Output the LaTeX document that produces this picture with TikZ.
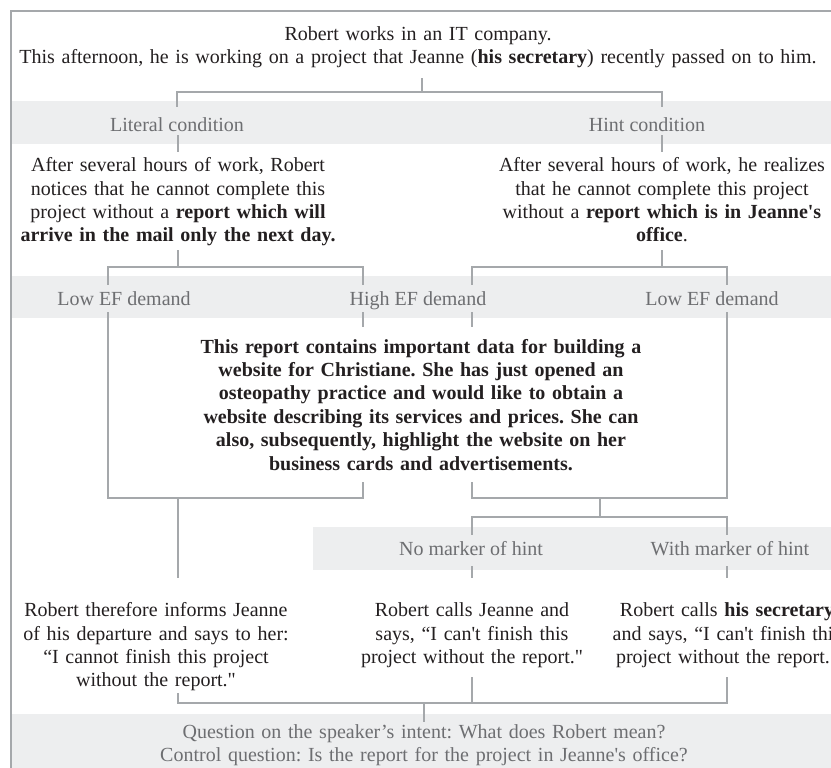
\documentclass[tikz,border=0pt]{standalone}
\usepackage{fontspec}
\setmainfont{Liberation Serif}[Ligatures=TeXOff]
\frenchspacing
\definecolor{linegray}{HTML}{A5A8AB}
\definecolor{bandgray}{HTML}{EDEEEF}
\definecolor{labgray}{HTML}{6D6E71}
\definecolor{inkblack}{HTML}{231F20}
\tikzset{
  link/.style={draw=linegray, line width=1.8pt},
  bandfill/.style={fill=bandgray},
  txt/.style={font=\fontsize{20}{23.4}\selectfont, text=inkblack, inner sep=0pt, anchor=base, align=center},
  lab/.style={txt, text=labgray},
}
\begin{document}
\begin{tikzpicture}[x=1pt, y=-1pt]
        \useasboundingbox (0,0) rectangle (831,768);
        \clip (0,0) rectangle (831,768);

        % grey bands behind the condition labels
        \fill[bandfill] (12,101) rectangle (850,144);
        \fill[bandfill] (12,276) rectangle (850,318);
        \fill[bandfill] (313,527) rectangle (850,570);
        \fill[bandfill] (12,714) rectangle (850,790);
        % outer frame
        \draw[link] (11,800) -- (11,11) -- (850,11);

        \node[txt, text width=820pt, text height=20pt, text depth=37.5pt] (title) at (418,40.5)
          {Robert works in an IT company.\\ This afternoon, he is working on a project that Jeanne (\textbf{his secretary}) recently passed on to him.};

        \node[lab, text height=24.5pt, text depth=3.5pt] (lit) at (177,131.5) {Literal condition};
        \node[lab, text height=24.5pt, text depth=3.5pt] (hint) at (647,131.5) {Hint condition};

        \node[txt, text width=330pt, text height=19.7pt, text depth=78.3pt] (litTxt) at (178,171.7)
          {After several hours of work, Robert\\ notices that he cannot complete this\\ project without a \textbf{report which will}\\ \textbf{arrive in the mail only the next day.}};
        \node[txt, text width=340pt, text height=19.7pt, text depth=78.3pt] (hintTxt) at (662,171.7)
          {After several hours of work, he realizes\\ that he cannot complete this project\\ without a \textbf{report which is in Jeanne's}\\ \textbf{office}.};

        \node[lab, text height=20pt, text depth=7pt] (lowA) at (124,305) {Low EF demand};
        \node[lab, text height=20pt, text depth=7pt] (highEF) at (418,305) {High EF demand};
        \node[lab, text height=20pt, text depth=7pt] (lowB) at (712,305) {Low EF demand};

        \node[txt, text width=470pt, text height=26pt, text depth=129pt] (report) at (421,353)
          {\bfseries This report contains important data for building a\\ website for Christiane. She has just opened an\\ osteopathy practice and would like to obtain a\\ website describing its services and prices. She can\\ also, subsequently, highlight the website on her\\ business cards and advertisements.};

        \node[lab, text height=20pt, text depth=11pt] (noMark) at (471,555) {No marker of hint};
        \node[lab, text height=20pt, text depth=11pt] (withMark) at (730,555) {With marker of hint};

        \node[txt, text width=300pt, text height=38.7pt, text depth=76.3pt] (informTxt) at (156,616.7)
          {Robert therefore informs Jeanne\\ of his departure and says to her:\\ “I cannot finish this project\\ without the report."};
        \node[txt, text width=240pt, text height=38.7pt, text depth=60.3pt] (callTxt) at (472,616.7)
          {Robert calls Jeanne and\\ says, “I can't finish this\\ project without the report."};
        \node[txt, text width=260pt, text height=38.7pt, text depth=60.3pt] (secTxt) at (727,616.7)
          {Robert calls \textbf{his secretary}\\ and says, “I can't finish this\\ project without the report."};

        \node[lab, text width=700pt, text height=16pt, text depth=30pt] (question) at (424,738)
          {Question on the speaker’s intent: What does Robert mean?\\ Control question: Is the report for the project in Jeanne's office?};

        % bracket joints
        \coordinate (tbar) at (422,92);
        \coordinate (lA) at (108,267);
        \coordinate (lB) at (363,267);
        \coordinate (rA) at (472,267);
        \coordinate (rB) at (727,267);
        \coordinate (jL) at (178,498);
        \coordinate (jR) at (600,498);
        \coordinate (mbar) at (600,517);
        \coordinate (qbar) at (424,703);

        \draw[link] (title.south -| tbar) -- (tbar);
        \draw[link] (lit.north) |- (tbar) -| (hint.north -| hintTxt.north);
        \draw[link] (lit.south -| litTxt.north) -- (litTxt.north);
        \draw[link] (hint.south -| hintTxt.north) -- (hintTxt.north);

        \draw[link] (litTxt.south) -- (litTxt.south |- lA);
        \draw[link] (lowA.north -| lA) -- (lA) -- (lB) -- (highEF.north -| lB);
        \draw[link] (hintTxt.south) -- (hintTxt.south |- rA);
        \draw[link] (highEF.north -| rA) -- (rA) -- (rB) -- (lowB.north -| rB);

        \draw[link] (highEF.south -| lB) -- (report.north -| lB);
        \draw[link] (highEF.south -| rA) -- (report.north -| rA);
        \draw[link] (lowA.south -| lA) |- (jL) -| (report.south -| lB);
        \draw[link] (report.south -| rA) |- (jR) -| (lowB.south -| rB);

        \draw[link] (jL) -- (informTxt.north -| jL);
        \draw[link] (jR) -- (mbar);
        \draw[link] (noMark.north -| rA) |- (mbar) -| (withMark.north -| rB);
        \draw[link] (noMark.south -| rA) -- (callTxt.north);
        \draw[link] (withMark.south -| rB) -- (secTxt.north);

        \draw[link] (informTxt.south -| jL) |- (secTxt.south |- qbar) -- (secTxt.south);
        \draw[link] (callTxt.south) -- (callTxt.south |- qbar);
        \draw[link] (qbar) -- (question.north -| qbar);
      \end{tikzpicture}
\end{document}
